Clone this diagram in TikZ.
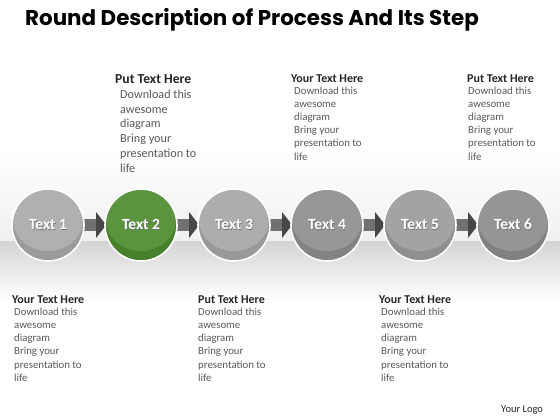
\documentclass[tikz,border=0pt]{standalone}
\usepackage{fontspec}
\setmainfont{Carlito}
\newfontfamily\titlefont{Poppins Bold}
\usetikzlibrary{arrows.meta,backgrounds,calc}
\definecolor{headc}{HTML}{262626}
\definecolor{bodyc}{HTML}{595959}
\definecolor{barc}{HTML}{717171}
\definecolor{tipc}{HTML}{474747}
\definecolor{gA}{HTML}{A9A9A9}
\definecolor{gG}{HTML}{4B8B2E}
\definecolor{gC}{HTML}{A6A6A6}
\definecolor{gD}{HTML}{8E8E8E}
\definecolor{gE}{HTML}{9B9B9B}
\definecolor{gF}{HTML}{8C8C8C}
\newcommand{\shtext}[1]{\rlap{\hspace{0.7pt}\raisebox{-0.7pt}{\textcolor{black!55}{#1}}}#1}
\tikzset{
  stepcirc/.style={circle, minimum size=72pt, inner sep=0pt, draw=white, line width=1.6pt,
    fill=#1!92!black, text=white, font=\fontsize{15.5}{17}\selectfont\bfseries,
    path picture={\fill[#1!92!white] ($(path picture bounding box.center)+(0pt,5pt)$) ellipse [x radius=35pt, y radius=31pt];}},
  conn/.style={draw=barc, line width=12pt, shorten <=-4pt, shorten >=-2pt,
    -{Triangle[length=10pt,width=25pt,color=tipc]}},
  headbig/.style={anchor=base west, inner sep=0pt, text=headc, font=\fontsize{13.7}{15}\selectfont\bfseries},
  bodybig/.style={anchor=base west, inner sep=0pt, text=bodyc, align=left, font=\fontsize{12.2}{14.9}\selectfont},
  headsm/.style={anchor=base west, inner sep=0pt, text=headc, font=\fontsize{12}{13}\selectfont\bfseries},
  bodysm/.style={anchor=base west, inner sep=0pt, text=bodyc, align=left, font=\fontsize{10.8}{13.2}\selectfont},
}
\begin{document}
\begin{tikzpicture}[x=1pt,y=-1pt]
\useasboundingbox (0,0) rectangle (560,420);
% title
\node[anchor=base west, inner sep=0pt, font=\titlefont\fontsize{21.4}{23}\selectfont] (title) at (25,25.5) {Round Description of Process And Its Step};
% circles
\node[stepcirc=gA] (n1) at (48,225) {\shtext{Text 1}};
\node[stepcirc=gG] (n2) at (141,225) {\shtext{Text 2}};
\node[stepcirc=gC] (n3) at (234,225) {\shtext{Text 3}};
\node[stepcirc=gD] (n4) at (327,225) {\shtext{Text 4}};
\node[stepcirc=gE] (n5) at (420,225) {\shtext{Text 5}};
\node[stepcirc=gF] (n6) at (513,225) {\shtext{Text 6}};
% top text blocks
\node[headbig] (h2) at (115,84) {Put Text Here};
\node[bodybig, anchor=north west] (b2) at (120,89.5) {Download this\\awesome\\diagram\\Bring your\\presentation to\\life};
\node[headsm] (h4) at (291,82) {Your Text Here};
\node[bodysm, anchor=north west] (b4) at (294,86.5) {Download this\\awesome\\diagram\\Bring your\\presentation to\\life};
\node[headsm] (h6) at (467,82) {Put Text Here};
\node[bodysm, anchor=north west] (b6) at (468,86.5) {Download this\\awesome\\diagram\\Bring your\\presentation to\\life};
% bottom text blocks
\node[headsm] (h1) at (12,303) {Your Text Here};
\node[bodysm, anchor=north west] (b1) at (14,307.5) {Download this\\awesome\\diagram\\Bring your\\presentation to\\life};
\node[headsm] (h3) at (198,303) {Put Text Here};
\node[bodysm, anchor=north west] (b3) at (198,307.5) {Download this\\awesome\\diagram\\Bring your\\presentation to\\life};
\node[headsm] (h5) at (379,303) {Your Text Here};
\node[bodysm, anchor=north west] (b5) at (381,307.5) {Download this\\awesome\\diagram\\Bring your\\presentation to\\life};
\node[anchor=base west, inner sep=0pt, text=headc, font=\fontsize{10.5}{12}\selectfont] (logo) at (501,412) {Your Logo};
\begin{pgfonlayer}{background}
\fill[white] (0,0) rectangle (560,420);
\shade[top color=white, bottom color=black!6] (0,150) rectangle (560,241);
\shade[top color=black!17, bottom color=white] (0,241) rectangle (560,300);
\draw[conn] (n1) -- (n2);
\draw[conn] (n2) -- (n3);
\draw[conn] (n3) -- (n4);
\draw[conn] (n4) -- (n5);
\draw[conn] (n5) -- (n6);
\end{pgfonlayer}
\end{tikzpicture}
\end{document}
